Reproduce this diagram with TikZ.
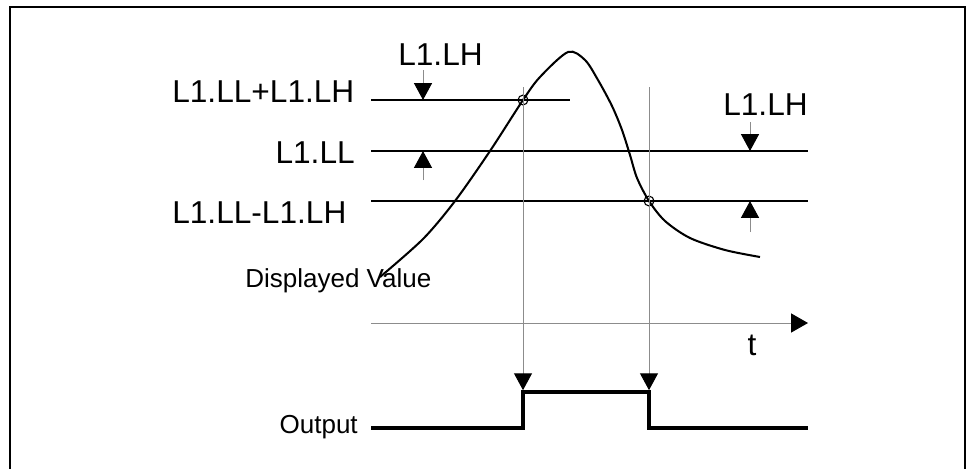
\documentclass[tikz,border=0pt]{standalone}
\usepackage{fontspec}
\setmainfont{Liberation Sans}
\usetikzlibrary{arrows.meta}

\begin{document}
\begin{tikzpicture}[
  x=0.025cm, y=-0.025cm,
  font=\fontsize{22.5}{27}\selectfont,
  lbl/.style={inner sep=0pt},
  small/.style={inner sep=0pt, font=\fontsize{18.5}{22}\selectfont},
  level/.style={line width=1.4pt},
  guide/.style={draw=black!45, line width=0.7pt},
  dimarrow/.style={guide, -{Triangle[width=12.8pt, length=12pt, color=black]}},
  sig/.style={line width=2.6pt},
  crossmark/.style={draw, circle, line width=0.8pt, minimum size=7pt, inner sep=0pt}
]
\useasboundingbox (0,0) rectangle (973,468);
\draw[line width=1.5pt] (10,480) -- (10,7) -- (965,7) -- (965,480);

% threshold levels
\coordinate (upperL) at (371,100); \coordinate (upperR) at (570,100);
\coordinate (midL) at (371,151);   \coordinate (midR) at (808,151);
\coordinate (lowerL) at (371,201); \coordinate (lowerR) at (808,201);
\draw[level] (upperL) -- (upperR);
\draw[level] (midL) -- (midR);
\draw[level, line width=2pt] (lowerL) -- (lowerR);

\node[lbl, anchor=base west] (lblUpper) at (172,102) {L1.LL+L1.LH};
\node[lbl, anchor=base east] (lblMid) at (355,163) {L1.LL};
\node[lbl, anchor=base west] (lblLower) at (172,223) {L1.LL-L1.LH};

% hysteresis marks
\node[lbl, anchor=base west] (hystA) at (398,65) {L1.LH};
\node[lbl, anchor=base east] (hystB) at (808,115) {L1.LH};
\coordinate (hA1) at (423,70);  \coordinate (hA2) at (423,100);
\coordinate (hA3) at (423,180); \coordinate (hA4) at (423,151);
\coordinate (hB1) at (750,122); \coordinate (hB2) at (750,151);
\coordinate (hB3) at (750,232); \coordinate (hB4) at (750,201);
\draw[dimarrow] (hA1) -- (hA2);
\draw[dimarrow] (hA3) -- (hA4);
\draw[dimarrow] (hB1) -- (hB2);
\draw[dimarrow] (hB3) -- (hB4);

% displayed value
\draw[line width=1.45pt] plot[smooth, tension=0.5] coordinates {
  (380,277) (423,239) (455,201) (490,151) (523,100) (540,77)
  (568,52) (585,60) (598,80) (612,106) (622,130) (630,155) (637,178)
  (649,201) (665,221) (690,238) (725,250) (760,257)};
\node[small, anchor=base west] (pv) at (245,287) {Displayed Value};
\node[crossmark] (cross1) at (523,100) {};
\node[crossmark] (cross2) at (649,201) {};

% time axis
\coordinate (axisL) at (371,323); \coordinate (axisR) at (808,323);
\draw[guide, -{Triangle[width=13.5pt, length=12pt, color=black]}] (axisL) -- (axisR);
\node[lbl, anchor=base] (tLbl) at (752,355) {t};

% output
\coordinate (outL) at (371,428);
\coordinate (riseLo) at (523,428); \coordinate (riseHi) at (523,392);
\coordinate (fallHi) at (649,392); \coordinate (fallLo) at (649,428);
\coordinate (outR) at (808,428);
\draw[sig] (outL) -- (riseLo) -- (riseHi) -- (fallHi) -- (fallLo) -- (outR);
\node[small, anchor=base east] (outLbl) at (358,433) {Output};

\coordinate (g1) at (523,87); \coordinate (g2) at (649,87);
\draw[dimarrow, shorten >=1.3pt] (g1) -- (riseHi);
\draw[dimarrow, shorten >=1.3pt] (g2) -- (fallHi);
\end{tikzpicture}
\end{document}
